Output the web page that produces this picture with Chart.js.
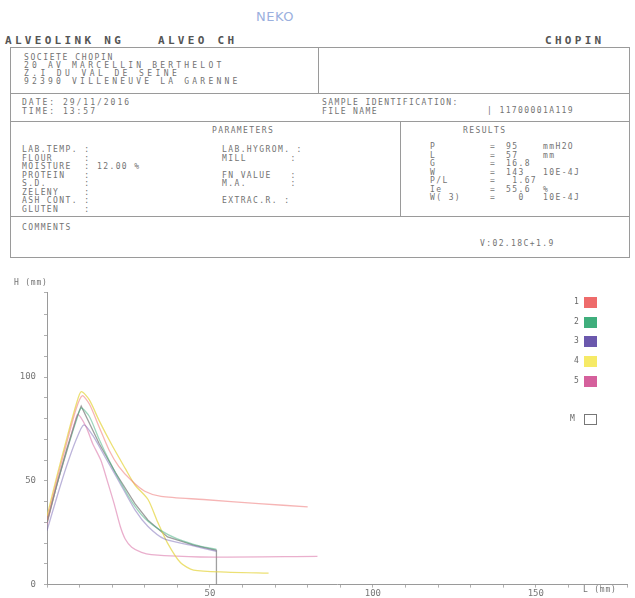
<!DOCTYPE html>
<html lang="fr">
<head>
    <meta charset="UTF-8">
    <title>Alveogramme</title>
    <script src="https://cdn.jsdelivr.net/npm/chart.js"></script>
    <style>
        body {
            margin: 0;
            width: 635px;
            height: 598px;
            background: #fff;
            position: relative;
            overflow: hidden;
            font-family: "DejaVu Sans Mono", monospace;
            color: #737373;
        }
        .t {
            position: absolute;
            font-size: 8px;
            letter-spacing: 1.4px;
            white-space: pre;
            line-height: 8.5px;
        }
        .head {
            position: absolute;
            font-size: 11px;
            font-weight: bold;
            letter-spacing: 3.3px;
            color: #555;
            white-space: pre;
        }
        .box {
            position: absolute;
            border: 1.5px solid #9a9a9a;
            box-sizing: border-box;
        }
        .vl {
            position: absolute;
            border-left: 1.5px solid #9a9a9a;
        }
        #chartWrap {
            position: absolute;
            left: 0;
            top: 270px;
            width: 635px;
            height: 328px;
        }
        .leg {
            position: absolute;
            font-size: 8px;
            color: #666;
        }
        .legBox {
            position: absolute;
            width: 13px;
            height: 11px;
        }
    </style>
</head>
<body>
<div class="t" style="left:256px;top:10px;font-size:13px;line-height:14px;color:#9bb0de;font-family:'DejaVu Sans';letter-spacing:0.5px">NEKO</div>

<div class="head" style="left:5px;top:34px">ALVEOLINK NG</div>
<div class="head" style="left:158px;top:34px">ALVEO CH</div>
<div class="head" style="left:545px;top:34px">CHOPIN</div>

<div class="box" style="left:10px;top:47px;width:620px;height:47px"></div>
<div class="vl" style="left:318px;top:47px;height:47px"></div>
<div class="t" style="left:24px;top:54px;letter-spacing:1.6px">SOCIETE CHOPIN</div>
<div class="t" style="left:24px;top:62px;letter-spacing:3.2px">20 AV MARCELLIN BERTHELOT</div>
<div class="t" style="left:24px;top:70px;letter-spacing:3.4px">Z.I DU VAL DE SEINE</div>
<div class="t" style="left:24px;top:78px;letter-spacing:3.2px">92390 VILLENEUVE LA GARENNE</div>

<div class="box" style="left:10px;top:93px;width:620px;height:29px"></div>
<div class="t" style="left:22px;top:99px;letter-spacing:2px">DATE: 29/11/2016
TIME: 13:57</div>
<div class="t" style="left:322px;top:99px">SAMPLE IDENTIFICATION:
FILE NAME</div>
<div class="t" style="left:487px;top:107px">| 11700001A119</div>

<div class="box" style="left:10px;top:121px;width:620px;height:96px"></div>
<div class="vl" style="left:400px;top:121px;height:96px"></div>
<div class="t" style="left:212px;top:127px">PARAMETERS</div>
<div class="t" style="left:22px;top:146px">LAB.TEMP. :
FLOUR     :
MOISTURE  :
PROTEIN   :
S.D.      :
ZELENY    :
ASH CONT. :
GLUTEN    :</div>
<div class="t" style="left:97px;top:163px">12.00 %</div>
<div class="t" style="left:222px;top:146px">LAB.HYGROM. :
MILL       :

FN VALUE   :
M.A.       :

EXTRAC.R. :</div>
<div class="t" style="left:463px;top:127px">RESULTS</div>
<div class="t" style="left:430px;top:143px">P
L
G
W
P/L
Ie
W( 3)</div>
<div class="t" style="left:490px;top:143px">=
=
=
=
=
=
=</div>
<div class="t" style="left:506px;top:143px">95
57
16.8
143
 1.67
55.6
  0</div>
<div class="t" style="left:543px;top:143px">mmH2O
mm

10E-4J

%
10E-4J</div>

<div class="box" style="left:10px;top:216px;width:620px;height:42px"></div>
<div class="t" style="left:22px;top:224px">COMMENTS</div>
<div class="t" style="left:480px;top:240px">V:02.18C+1.9</div>

<div id="chartWrap"><canvas id="alveo"></canvas></div>
<div class="t" style="left:14px;top:279px;font-size:8px;letter-spacing:0.8px">H (mm)</div>
<div class="t" style="left:583px;top:586px;font-size:8px;letter-spacing:0.8px">L (mm)</div>
<div id="legend"></div>

<script>
    // curves: [L (mm), P (mm H2O)]
    const curve1 = [[0, 31], [3, 50], [6, 68], [9, 85], [10.8, 91], [13, 87], [16, 76], [19, 65], [22, 57],
        [26, 50], [30, 45], [35, 42.5], [48, 41], [65, 39], [80, 37.5]];
    const curve2 = [[0, 30], [3, 48], [6, 64], [9, 79], [10.5, 85], [13, 81], [16, 70], [19, 60], [22, 51],
        [26, 40], [30, 32], [35, 26], [40, 22], [47, 18.5], [52, 17]];
    const curve3 = [[0, 26], [3, 42], [6, 57], [9, 70], [11.3, 77], [14, 72], [18, 61], [22, 50], [27, 36],
        [31, 28], [36, 22], [44, 19], [52, 16]];
    const curve4 = [[0, 33], [3, 52], [6, 70], [9, 87], [10.5, 93], [13, 89], [16, 79], [20, 67], [24, 56],
        [27, 48], [31, 41], [34, 30], [37, 20], [41, 10.5], [45, 7], [55, 6], [68, 5.5]];
    const curve5 = [[0, 29], [3, 48], [6, 64], [8.5, 78], [9.5, 82], [12, 76], [14, 68], [16.5, 60], [18.5, 50],
        [20.6, 39], [22.5, 28], [24, 22], [26, 18], [29, 15.5], [32, 14.4], [47, 13.3], [83, 13.6]];
    const curveM = [[0, 30], [3, 48], [6, 65], [9, 80], [10.5, 86], [16, 68], [21, 54], [27, 39], [31, 31],
        [37, 23], [45, 19], [52, 16.5], [52, 0]];

    const curveNames = ['1', '2', '3', '4', '5'];
    const curveColors = ['#ee6b6b', '#3fae7c', '#6b58ad', '#f6ea66', '#d5609c'];
    const lineColors = ['rgba(238,107,107,0.5)', 'rgba(63,174,124,0.5)', 'rgba(107,88,173,0.45)',
        'rgba(230,214,70,0.75)', 'rgba(213,96,156,0.5)'];
    const yTickLabels = [0, 50, 100];
    const xTickLabels = [50, 100, 150];

    const curves = [curve1, curve2, curve3, curve4, curve5];

    let datasets = curves.map((c, i) => ({
        label: curveNames[i],
        data: c.map(p => ({ x: p[0], y: p[1] })),
        borderColor: lineColors[i],
        borderWidth: 1.3,
        pointRadius: 0,
        showLine: true,
        tension: 0.25
    }));
    datasets.push({
        label: 'M',
        data: curveM.map(p => ({ x: p[0], y: p[1] })),
        borderColor: 'rgba(120,120,120,0.7)',
        borderWidth: 1.3,
        pointRadius: 0,
        showLine: true,
        tension: 0
    });

    // legend on the right, like the printout
    let legend = document.getElementById('legend');
    let rows = curveNames.concat(['M']);
    let rowTop = [297, 317, 336, 356, 376, 414];
    rows.forEach((name, i) => {
        let lab = document.createElement('div');
        lab.className = 'leg';
        lab.style.left = (name === 'M' ? 570 : 574) + 'px';
        lab.style.top = rowTop[i] + 'px';
        lab.textContent = name;
        legend.appendChild(lab);
        let box = document.createElement('div');
        box.className = 'legBox';
        box.style.left = '584px';
        box.style.top = rowTop[i] + 'px';
        if (name === 'M') {
            box.style.border = '1px solid #777';
            box.style.boxSizing = 'border-box';
        } else {
            box.style.background = curveColors[i];
        }
        legend.appendChild(box);
    });

    const tickFont = { family: 'DejaVu Sans Mono', size: 9 };

    new Chart(document.getElementById('alveo'), {
        type: 'scatter',
        data: { datasets: datasets },
        options: {
            responsive: true,
            maintainAspectRatio: false,
            animation: false,
            layout: { padding: { top: 22, right: 8, left: 0, bottom: 0 } },
            plugins: { legend: { display: false }, tooltip: { enabled: false } },
            scales: {
                x: {
                    type: 'linear',
                    min: 0,
                    max: 178,
                    border: { color: '#9a9a9a', width: 1 },
                    grid: { drawOnChartArea: false, drawTicks: true, tickLength: 3, color: '#b0b0b0' },
                    ticks: {
                        stepSize: 10,
                        autoSkip: false,
                        maxRotation: 0,
                        padding: 1,
                        color: '#777',
                        font: tickFont,
                        callback: v => xTickLabels.includes(v) ? String(v) : ''
                    },
                    afterFit: s => { s.height = 13; }
                },
                y: {
                    min: 0,
                    max: 141,
                    border: { color: '#9a9a9a', width: 1 },
                    grid: { drawOnChartArea: false, drawTicks: true, tickLength: 3, color: '#b0b0b0' },
                    ticks: {
                        stepSize: 10,
                        autoSkip: false,
                        padding: 8,
                        color: '#777',
                        font: tickFont,
                        callback: v => yTickLabels.includes(v) ? String(v) : ''
                    },
                    afterFit: s => { s.width = 47; }
                }
            }
        }
    });
</script>
</body>
</html>
